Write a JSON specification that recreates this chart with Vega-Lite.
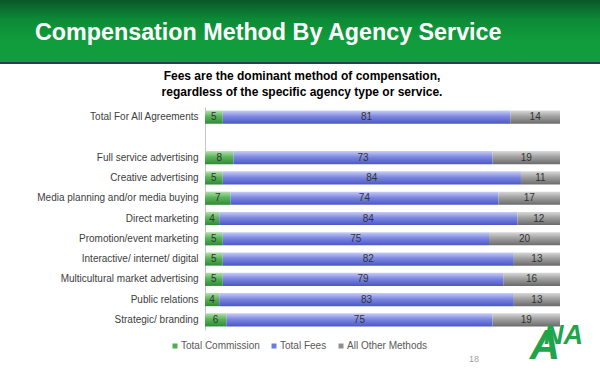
{
  "$schema": "https://vega.github.io/schema/vega-lite/v6.json",
  "padding": 0,
  "spacing": 6,
  "background": "white",
  "config": {"view": {"stroke": null}, "font": "Liberation Sans"},
  "datasets": {
    "comp": [
      {"service": "Total For All Agreements", "method": "Total Commission", "k": 1, "value": 5},
      {"service": "Total For All Agreements", "method": "Total Fees", "k": 2, "value": 81},
      {"service": "Total For All Agreements", "method": "All Other Methods", "k": 3, "value": 14},
      {"service": "Full service advertising", "method": "Total Commission", "k": 1, "value": 8},
      {"service": "Full service advertising", "method": "Total Fees", "k": 2, "value": 73},
      {"service": "Full service advertising", "method": "All Other Methods", "k": 3, "value": 19},
      {"service": "Creative advertising", "method": "Total Commission", "k": 1, "value": 5},
      {"service": "Creative advertising", "method": "Total Fees", "k": 2, "value": 84},
      {"service": "Creative advertising", "method": "All Other Methods", "k": 3, "value": 11},
      {"service": "Media planning and/or media buying", "method": "Total Commission", "k": 1, "value": 7},
      {"service": "Media planning and/or media buying", "method": "Total Fees", "k": 2, "value": 74},
      {"service": "Media planning and/or media buying", "method": "All Other Methods", "k": 3, "value": 17},
      {"service": "Direct marketing", "method": "Total Commission", "k": 1, "value": 4},
      {"service": "Direct marketing", "method": "Total Fees", "k": 2, "value": 84},
      {"service": "Direct marketing", "method": "All Other Methods", "k": 3, "value": 12},
      {"service": "Promotion/event marketing", "method": "Total Commission", "k": 1, "value": 5},
      {"service": "Promotion/event marketing", "method": "Total Fees", "k": 2, "value": 75},
      {"service": "Promotion/event marketing", "method": "All Other Methods", "k": 3, "value": 20},
      {"service": "Interactive/ internet/ digital", "method": "Total Commission", "k": 1, "value": 5},
      {"service": "Interactive/ internet/ digital", "method": "Total Fees", "k": 2, "value": 82},
      {"service": "Interactive/ internet/ digital", "method": "All Other Methods", "k": 3, "value": 13},
      {"service": "Multicultural market advertising", "method": "Total Commission", "k": 1, "value": 5},
      {"service": "Multicultural market advertising", "method": "Total Fees", "k": 2, "value": 79},
      {"service": "Multicultural market advertising", "method": "All Other Methods", "k": 3, "value": 16},
      {"service": "Public relations", "method": "Total Commission", "k": 1, "value": 4},
      {"service": "Public relations", "method": "Total Fees", "k": 2, "value": 83},
      {"service": "Public relations", "method": "All Other Methods", "k": 3, "value": 13},
      {"service": "Strategic/ branding", "method": "Total Commission", "k": 1, "value": 6},
      {"service": "Strategic/ branding", "method": "Total Fees", "k": 2, "value": 75},
      {"service": "Strategic/ branding", "method": "All Other Methods", "k": 3, "value": 19}
    ]
  },
  "vconcat": [
    {
      "width": 600,
      "height": 64,
      "data": {"values": [{"title": "Compensation Method By Agency Service"}]},
      "layer": [
        {
          "mark": {"type": "rect", "color": {"gradient": "linear", "x1": 0, "y1": 0, "x2": 0, "y2": 1,
            "stops": [
              {"offset": 0, "color": "#0a572a"},
              {"offset": 0.3, "color": "#0c8a36"},
              {"offset": 0.6, "color": "#109b3c"},
              {"offset": 0.965, "color": "#129e3e"},
              {"offset": 0.966, "color": "#26404c"},
              {"offset": 1, "color": "#26404c"}
            ]}},
          "encoding": {}
        },
        {
          "mark": {"type": "text", "align": "left", "baseline": "middle", "dx": -265, "dy": 1, "font": "Liberation Sans", "fontSize": 23.3, "fontWeight": "bold", "color": "white"},
          "encoding": {"text": {"field": "title"}}
        }
      ]
    },
    {
      "width": 600,
      "height": 223,
      "data": {"name": "comp"},
      "title": {
        "text": ["Fees are the dominant method of compensation,", "regardless of the specific agency type or service."],
        "font": "Liberation Sans", "fontSize": 12, "fontWeight": "bold", "color": "black",
        "lineHeight": 16, "anchor": "middle", "frame": "group", "dx": 2, "offset": 8
      },
      "encoding": {
        "y": {
          "field": "service", "type": "nominal",
          "scale": {
            "domain": ["Total For All Agreements", "", "Full service advertising", "Creative advertising", "Media planning and/or media buying", "Direct marketing", "Promotion/event marketing", "Interactive/ internet/ digital", "Multicultural market advertising", "Public relations", "Strategic/ branding"],
            "paddingInner": 0.35, "paddingOuter": 0.175
          },
          "axis": {
            "title": null, "offset": -205, "ticks": false, "labelPadding": 7,
            "labelFont": "Liberation Sans", "labelFontSize": 10, "labelColor": "#404040",
            "domainColor": "#c4c4c4", "labelLimit": 300
          }
        }
      },
      "layer": [
        {
          "mark": {"type": "bar", "opacity": 0},
          "encoding": {
            "x": {"field": "value", "type": "quantitative", "stack": "normalize", "scale": {"domain": [0, 1], "nice": false, "range": [205, 560]}, "axis": null},
            "order": {"field": "k", "type": "quantitative"},
            "color": {
              "field": "method", "type": "nominal",
              "scale": {
                "domain": ["Total Commission", "Total Fees", "All Other Methods"],
                "range": ["#4fae50", "#6f7bdc", "#8e8e8e"]
              },
              "legend": {
                "title": null, "orient": "none", "direction": "horizontal",
                "legendX": 170, "legendY": 341, "padding": 0,
                "symbolType": "square", "symbolSize": 25, "symbolStrokeWidth": 0, "symbolOpacity": 1,
                "labelFont": "Liberation Sans", "labelFontSize": 10, "labelColor": "#595959",
                "labelOffset": 1, "columnPadding": 9
              }
            }
          }
        },
        {
          "mark": {"type": "bar"},
          "encoding": {
            "x": {"field": "value", "type": "quantitative", "stack": "normalize"},
            "order": {"field": "k", "type": "quantitative"},
            "detail": {"field": "method"},
            "fill": {
              "condition": [
                {"test": "datum.method === 'Total Commission'", "value": {"gradient": "linear", "x1": 0, "y1": 0, "x2": 0, "y2": 1, "stops": [{"offset": 0, "color": "#b3e0ac"}, {"offset": 0.45, "color": "#5bb45a"}, {"offset": 1, "color": "#2f8a36"}]}},
                {"test": "datum.method === 'Total Fees'", "value": {"gradient": "linear", "x1": 0, "y1": 0, "x2": 0, "y2": 1, "stops": [{"offset": 0, "color": "#c8cdf6"}, {"offset": 0.45, "color": "#7d88e0"}, {"offset": 1, "color": "#4a57c6"}]}}
              ],
              "value": {"gradient": "linear", "x1": 0, "y1": 0, "x2": 0, "y2": 1, "stops": [{"offset": 0, "color": "#d8d8d8"}, {"offset": 0.45, "color": "#a0a0a0"}, {"offset": 1, "color": "#6a6a6a"}]}
            }
          }
        },
        {
          "mark": {"type": "text", "font": "Liberation Sans", "fontSize": 10, "color": "#333333", "baseline": "middle"},
          "encoding": {
            "x": {"field": "value", "type": "quantitative", "stack": "normalize", "bandPosition": 0.5},
            "order": {"field": "k", "type": "quantitative"},
            "detail": {"field": "method"},
            "text": {"field": "value", "type": "quantitative"}
          }
        },
        {
          "data": {"values": [{"page": "18"}]},
          "mark": {"type": "text", "font": "Liberation Sans", "fontSize": 9, "color": "#a0a0a0", "baseline": "middle", "dy": 39},
          "encoding": {
            "x": {"datum": 0.758, "type": "quantitative"},
            "y": {"datum": "Strategic/ branding", "type": "nominal"},
            "text": {"field": "page"}
          }
        },
        {
          "data": {"values": [{"logo": "A"}]},
          "mark": {"type": "text", "font": "Liberation Sans", "fontSize": 42, "fontWeight": "bold", "fontStyle": "italic", "color": "#1fa44b", "align": "left", "baseline": "alphabetic", "dy": 39},
          "encoding": {
            "x": {"datum": 0.915, "type": "quantitative"},
            "y": {"datum": "Strategic/ branding", "type": "nominal"},
            "text": {"field": "logo"}
          }
        },
        {
          "data": {"values": [{"logo": "NA"}]},
          "mark": {"type": "text", "font": "Liberation Sans", "fontSize": 27, "fontWeight": "bold", "fontStyle": "italic", "color": "#1fa44b", "align": "left", "baseline": "alphabetic", "dy": 24},
          "encoding": {
            "x": {"datum": 0.955, "type": "quantitative"},
            "y": {"datum": "Strategic/ branding", "type": "nominal"},
            "text": {"field": "logo"}
          }
        }
      ]
    }
  ]
}
